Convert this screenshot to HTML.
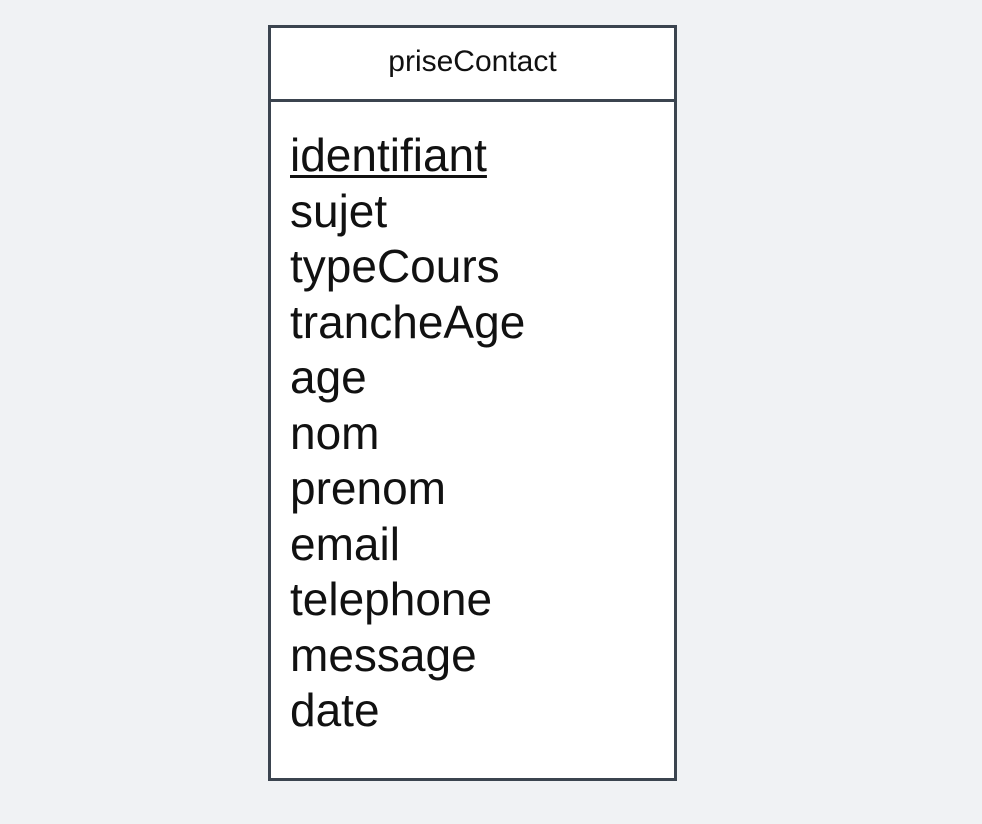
<!DOCTYPE html>
<html><head><style>
body{margin:0;width:982px;height:824px;background:#f0f2f4;position:relative;overflow:hidden;font-family:"Liberation Sans",sans-serif;}
.box{position:absolute;left:268px;top:25px;width:403px;height:750px;border:3px solid #3b444f;background:#fff;}
.div{position:absolute;left:268px;top:99px;width:409px;height:3px;background:#3b444f;}
.title{position:absolute;left:268px;top:42px;width:409px;text-align:center;font-size:30px;line-height:40px;color:#111;}
.attrs{position:absolute;left:290px;top:128px;font-size:46px;line-height:55.5px;color:#111;}
.u{text-decoration:underline;text-decoration-thickness:3px;text-underline-offset:4px;}
</style></head><body>
<div class="box"></div>
<div class="div"></div>
<div class="title">priseContact</div>
<div class="attrs">
<div class="u">identifiant</div>
<div>sujet</div>
<div>typeCours</div>
<div>trancheAge</div>
<div>age</div>
<div>nom</div>
<div>prenom</div>
<div>email</div>
<div>telephone</div>
<div>message</div>
<div>date</div>
</div>
</body></html>
